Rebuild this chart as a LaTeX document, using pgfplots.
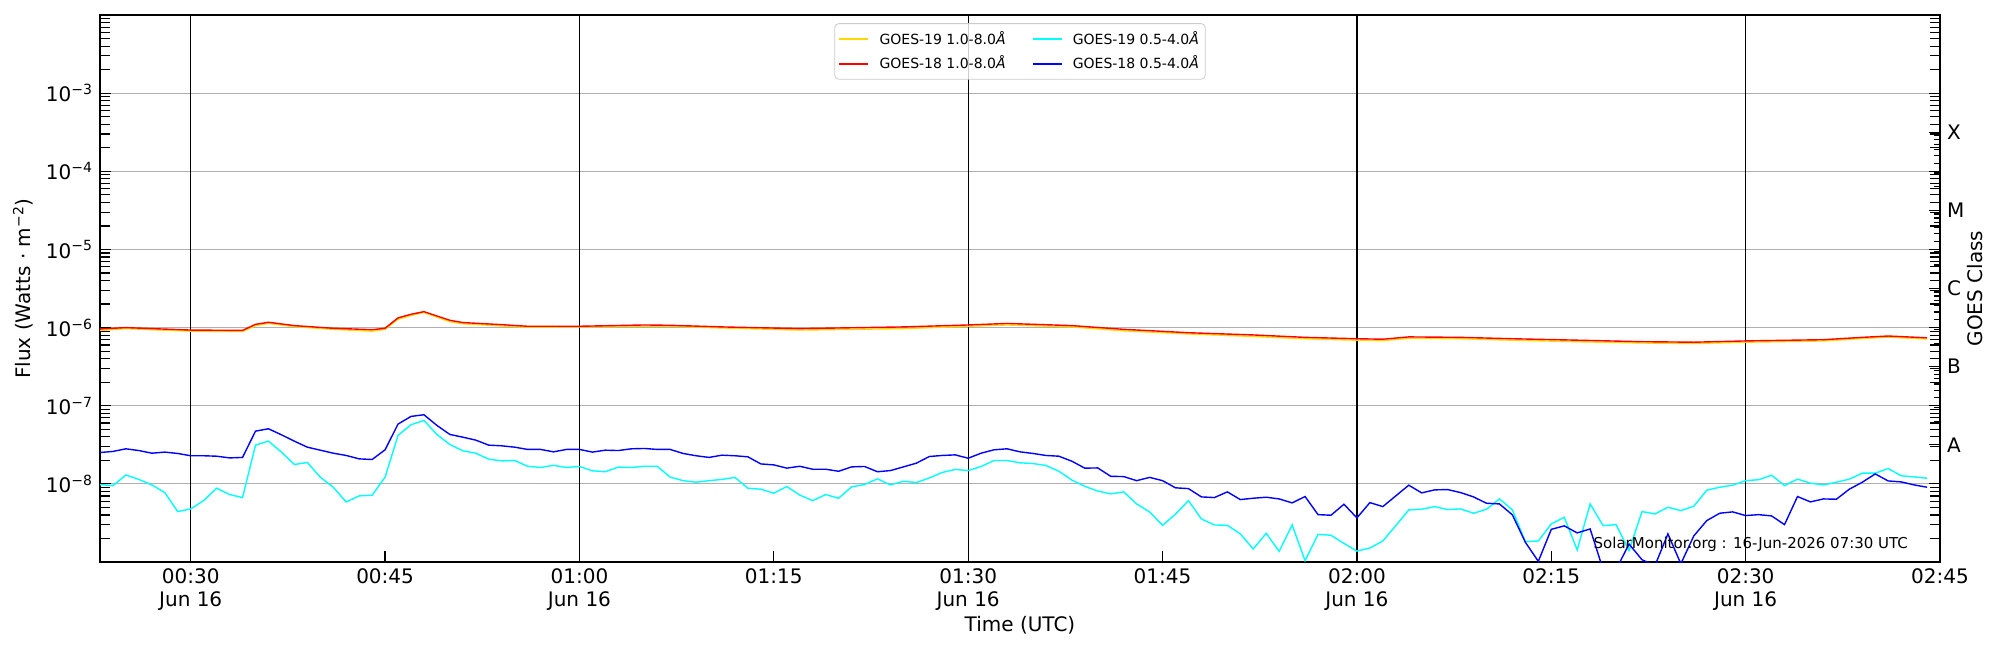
\documentclass[border=0pt]{standalone}
\usepackage{fontspec}
\setmainfont{DejaVu Sans}
\usepackage{pgfplots}
\pgfplotsset{compat=1.18}
\definecolor{gold}{HTML}{FFD700}
\definecolor{gridgray}{HTML}{B0B0B0}
\definecolor{legframe}{HTML}{CCCCCC}
\definecolor{pcyan}{HTML}{00FFFF}
\definecolor{pblue}{HTML}{0000FF}
\definecolor{pred}{HTML}{FF0000}
\begin{document}
\begin{tikzpicture}
\path[use as bounding box] (0,0) rectangle (1000pt,325pt);
\begin{axis}[
  at={(50pt,44pt)}, anchor=south west,
  scale only axis, width=920pt, height=273.5pt,
  xmin=23, xmax=165, ymode=log, ymin=1e-9, ymax=1e-2,
  xtick={45,75,105,135,165},
  xticklabels={00:45,01:15,01:45,02:15,02:45},
  extra x ticks={30,60,90,120,150},
  extra x tick labels={00:30\\Jun 16,01:00\\Jun 16,01:30\\Jun 16,02:00\\Jun 16,02:30\\Jun 16},
  extra x tick style={grid=major, major grid style={black, line width=0.65pt}},
  ytick={1e-8,1e-7,1e-6,1e-5,1e-4,1e-3},
  yticklabels={10\textsuperscript{−8},10\textsuperscript{−7},10\textsuperscript{−6},10\textsuperscript{−5},10\textsuperscript{−4},10\textsuperscript{−3}},
  minor ytick={2e-9,3e-9,4e-9,5e-9,6e-9,7e-9,8e-9,9e-9,
    2e-8,3e-8,4e-8,5e-8,6e-8,7e-8,8e-8,9e-8,
    2e-7,3e-7,4e-7,5e-7,6e-7,7e-7,8e-7,9e-7,
    2e-6,3e-6,4e-6,5e-6,6e-6,7e-6,8e-6,9e-6,
    2e-5,3e-5,4e-5,5e-5,6e-5,7e-5,8e-5,9e-5,
    2e-4,3e-4,4e-4,5e-4,6e-4,7e-4,8e-4,9e-4,
    2e-3,3e-3,4e-3,5e-3,6e-3,7e-3,8e-3,9e-3},
  ymajorgrids=true,
  major grid style={gridgray, line width=0.5pt},
  tick align=inside, xtick pos=left, ytick pos=both, yticklabel pos=left,
  major tick length=5.5pt, minor tick length=5pt,
  tick style={black, line width=0.6pt},
  axis line style={line width=0.8pt},
  tick label style={font=\fontsize{10}{11.5}\selectfont},
  xticklabel style={align=center},
  label style={font=\fontsize{10}{12}\selectfont},
  xlabel={Time (UTC)},
  xlabel style={at={(axis description cs:0.5,-0.115)}, anchor=center},
  ylabel={Flux (Watts · m\textsuperscript{−2})},
  ylabel style={at={(axis description cs:-0.0418,0.5)}, anchor=center},
  legend columns=2,
  legend cell align=left,
  legend image code/.code={\draw[#1] (0pt,0pt) -- (14.5pt,0pt);},
  legend style={at={(0.5,0.985)}, anchor=north,
    font=\fontsize{7}{8.4}\selectfont,
    draw=legframe, rounded corners=2pt, fill=white, fill opacity=0.8, text opacity=1,
    inner xsep=2pt, inner ysep=2.5pt, row sep=2pt, nodes={inner sep=1.2pt},
    /tikz/every odd column/.append style={column sep=4pt},
    /tikz/every even column/.append style={column sep=12pt}},
  no markers,
]
\addplot[gold, line width=0.7pt] coordinates {
(23,0.92e-6) (25,0.97e-6) (27,0.94e-6) (30,0.90e-6) (34,0.89e-6) (35,1.06e-6) (36,1.13e-6) (38,1.03e-6) (41,0.95e-6) (44,0.90e-6) (45,0.95e-6) (46,1.28e-6) (47,1.43e-6) (48,1.56e-6) (50,1.19e-6) (51,1.12e-6) (54,1.05e-6) (56,1.01e-6) (60,1.02e-6) (65,1.04e-6) (67,1.04e-6) (71,0.99e-6) (77,0.93e-6) (85,0.97e-6) (90,1.04e-6) (93,1.08e-6) (98,1.02e-6) (102,0.91e-6) (107,0.83e-6) (112,0.77e-6) (116,0.72e-6) (120,0.69e-6) (122,0.68e-6) (124,0.73e-6) (128,0.72e-6) (132,0.69e-6) (137,0.66e-6) (142,0.635e-6) (146,0.625e-6) (150,0.65e-6) (156,0.675e-6) (159,0.725e-6) (161,0.755e-6) (164,0.715e-6)
};
\addlegendentry{GOES-19 1.0-8.0\textit{Å}}
\addplot[pcyan, line width=0.7pt] coordinates {
(23,0.98e-8) (24,0.95e-8) (25,1.30e-8) (26,1.14e-8) (27,0.97e-8) (28,0.774e-8) (29,0.442e-8) (30,0.478e-8) (31,0.611e-8) (32,0.88e-8) (33,0.73e-8) (34,0.668e-8) (35,3.13e-8) (36,3.53e-8) (37,2.55e-8) (38,1.77e-8) (39,1.88e-8) (40,1.22e-8) (41,0.906e-8) (42,0.587e-8) (43,0.702e-8) (44,0.715e-8) (45,1.22e-8) (46,4.17e-8) (47,5.71e-8) (48,6.48e-8) (49,4.29e-8) (50,3.19e-8) (51,2.65e-8) (52,2.47e-8) (53,2.07e-8) (54,1.97e-8) (55,1.99e-8) (56,1.68e-8) (57,1.62e-8) (58,1.73e-8) (59,1.62e-8) (60,1.67e-8) (61,1.47e-8) (62,1.43e-8) (63,1.64e-8) (64,1.62e-8) (65,1.68e-8) (66,1.68e-8) (67,1.22e-8) (68,1.10e-8) (69,1.05e-8) (70,1.10e-8) (71,1.14e-8) (72,1.21e-8) (73,0.88e-8) (74,0.855e-8) (75,0.76e-8) (76,0.925e-8) (77,0.72e-8) (78,0.61e-8) (79,0.73e-8) (80,0.655e-8) (81,0.915e-8) (82,0.98e-8) (83,1.16e-8) (84,0.97e-8) (85,1.08e-8) (86,1.04e-8) (87,1.19e-8) (88,1.40e-8) (89,1.53e-8) (90,1.48e-8) (91,1.67e-8) (92,1.99e-8) (93,1.99e-8) (94,1.86e-8) (95,1.82e-8) (96,1.72e-8) (97,1.45e-8) (98,1.12e-8) (99,0.93e-8) (100,0.81e-8) (101,0.745e-8) (102,0.79e-8) (103,0.554e-8) (104,0.438e-8) (105,0.295e-8) (106,0.41e-8) (107,0.61e-8) (108,0.356e-8) (109,0.298e-8) (110,0.295e-8) (111,0.229e-8) (112,0.147e-8) (113,0.233e-8) (114,0.137e-8) (115,0.298e-8) (116,0.104e-8) (117,0.226e-8) (118,0.220e-8) (119,0.173e-8) (120,0.138e-8) (121,0.151e-8) (122,0.186e-8) (123,0.292e-8) (124,0.464e-8) (125,0.474e-8) (126,0.512e-8) (127,0.469e-8) (128,0.478e-8) (129,0.421e-8) (130,0.474e-8) (131,0.642e-8) (132,0.464e-8) (133,0.182e-8) (134,0.186e-8) (135,0.307e-8) (136,0.374e-8) (137,0.143e-8) (138,0.554e-8) (139,0.292e-8) (140,0.301e-8) (141,0.140e-8) (142,0.442e-8) (143,0.412e-8) (144,0.502e-8) (145,0.455e-8) (146,0.518e-8) (147,0.830e-8) (148,0.906e-8) (149,0.962e-8) (150,1.10e-8) (151,1.13e-8) (152,1.29e-8) (153,0.95e-8) (154,1.15e-8) (155,1.02e-8) (156,0.97e-8) (157,1.05e-8) (158,1.15e-8) (159,1.37e-8) (160,1.37e-8) (161,1.57e-8) (162,1.27e-8) (163,1.23e-8) (164,1.18e-8)
};
\addlegendentry{GOES-19 0.5-4.0\textit{Å}}
\addplot[pred, line width=0.7pt] coordinates {
(23,0.96e-6) (25,1.00e-6) (27,0.97e-6) (30,0.93e-6) (34,0.92e-6) (35,1.10e-6) (36,1.17e-6) (38,1.06e-6) (41,0.98e-6) (44,0.94e-6) (45,0.98e-6) (46,1.33e-6) (47,1.48e-6) (48,1.60e-6) (50,1.24e-6) (51,1.16e-6) (54,1.09e-6) (56,1.04e-6) (60,1.04e-6) (65,1.08e-6) (67,1.07e-6) (71,1.02e-6) (77,0.97e-6) (85,1.02e-6) (90,1.08e-6) (93,1.13e-6) (98,1.06e-6) (102,0.95e-6) (107,0.86e-6) (112,0.805e-6) (116,0.75e-6) (120,0.72e-6) (122,0.71e-6) (124,0.76e-6) (128,0.75e-6) (132,0.72e-6) (137,0.69e-6) (142,0.66e-6) (146,0.65e-6) (150,0.675e-6) (156,0.70e-6) (159,0.75e-6) (161,0.78e-6) (164,0.74e-6)
};
\addlegendentry{GOES-18 1.0-8.0\textit{Å}}
\addplot[pblue, line width=0.7pt] coordinates {
(23,2.52e-8) (24,2.60e-8) (25,2.81e-8) (26,2.67e-8) (27,2.47e-8) (28,2.55e-8) (29,2.45e-8) (30,2.29e-8) (31,2.29e-8) (32,2.26e-8) (33,2.15e-8) (34,2.18e-8) (35,4.73e-8) (36,5.07e-8) (37,4.25e-8) (38,3.52e-8) (39,2.95e-8) (40,2.70e-8) (41,2.47e-8) (42,2.31e-8) (43,2.09e-8) (44,2.05e-8) (45,2.73e-8) (46,5.82e-8) (47,7.30e-8) (48,7.67e-8) (49,5.60e-8) (50,4.29e-8) (51,3.96e-8) (52,3.63e-8) (53,3.13e-8) (54,3.07e-8) (55,2.95e-8) (56,2.76e-8) (57,2.76e-8) (58,2.57e-8) (59,2.76e-8) (60,2.76e-8) (61,2.55e-8) (62,2.70e-8) (63,2.67e-8) (64,2.81e-8) (65,2.84e-8) (66,2.76e-8) (67,2.76e-8) (68,2.45e-8) (69,2.29e-8) (70,2.18e-8) (71,2.33e-8) (72,2.29e-8) (73,2.22e-8) (74,1.80e-8) (75,1.75e-8) (76,1.59e-8) (77,1.68e-8) (78,1.54e-8) (79,1.54e-8) (80,1.45e-8) (81,1.65e-8) (82,1.67e-8) (83,1.43e-8) (84,1.48e-8) (85,1.65e-8) (86,1.84e-8) (87,2.24e-8) (88,2.31e-8) (89,2.35e-8) (90,2.13e-8) (91,2.47e-8) (92,2.73e-8) (93,2.81e-8) (94,2.57e-8) (95,2.45e-8) (96,2.31e-8) (97,2.26e-8) (98,1.95e-8) (99,1.59e-8) (100,1.60e-8) (101,1.25e-8) (102,1.24e-8) (103,1.10e-8) (104,1.21e-8) (105,1.10e-8) (106,0.89e-8) (107,0.87e-8) (108,0.681e-8) (109,0.668e-8) (110,0.790e-8) (111,0.630e-8) (112,0.655e-8) (113,0.675e-8) (114,0.642e-8) (115,0.571e-8) (116,0.689e-8) (117,0.404e-8) (118,0.397e-8) (119,0.549e-8) (120,0.367e-8) (121,0.576e-8) (122,0.512e-8) (123,0.702e-8) (124,0.962e-8) (125,0.767e-8) (126,0.838e-8) (127,0.846e-8) (128,0.774e-8) (129,0.681e-8) (130,0.565e-8) (131,0.554e-8) (132,0.401e-8) (133,0.179e-8) (134,0.102e-8) (135,0.262e-8) (136,0.29e-8) (137,0.236e-8) (138,0.265e-8) (139,0.08e-8) (140,0.08e-8) (141,0.170e-8) (142,0.107e-8) (143,0.09e-8) (144,0.229e-8) (145,0.095e-8) (146,0.216e-8) (147,0.339e-8) (148,0.421e-8) (149,0.438e-8) (150,0.393e-8) (151,0.404e-8) (152,0.389e-8) (153,0.301e-8) (154,0.689e-8) (155,0.588e-8) (156,0.642e-8) (157,0.636e-8) (158,0.855e-8) (159,1.05e-8) (160,1.34e-8) (161,1.09e-8) (162,1.06e-8) (163,0.97e-8) (164,0.906e-8)
};
\addlegendentry{GOES-18 0.5-4.0\textit{Å}}
\node[anchor=base east, font=\fontsize{7.5}{9}\selectfont] at (rel axis cs:0.9864,0.0256) {SolarMonitor.org : 16-Jun-2026 07:30 UTC};
\end{axis}
\begin{axis}[
  at={(50pt,44pt)}, anchor=south west,
  scale only axis, width=920pt, height=273.5pt,
  xmin=23, xmax=165, ymode=log, ymin=1e-9, ymax=1e-2,
  axis y line*=right, axis x line=none,
  ytick={3.1623e-8,3.1623e-7,3.1623e-6,3.1623e-5,3.1623e-4},
  yticklabels={A,B,C,M,X},
  tick align=inside, major tick length=5.5pt,
  tick style={black, line width=0.6pt},
  axis line style={line width=0.8pt},
  tick label style={font=\fontsize{10}{11.5}\selectfont},
  label style={font=\fontsize{10}{12}\selectfont},
  ylabel={GOES Class},
  ylabel style={at={(axis description cs:1.019,0.5)}, anchor=center},
]
\end{axis}
\end{tikzpicture}
\end{document}
